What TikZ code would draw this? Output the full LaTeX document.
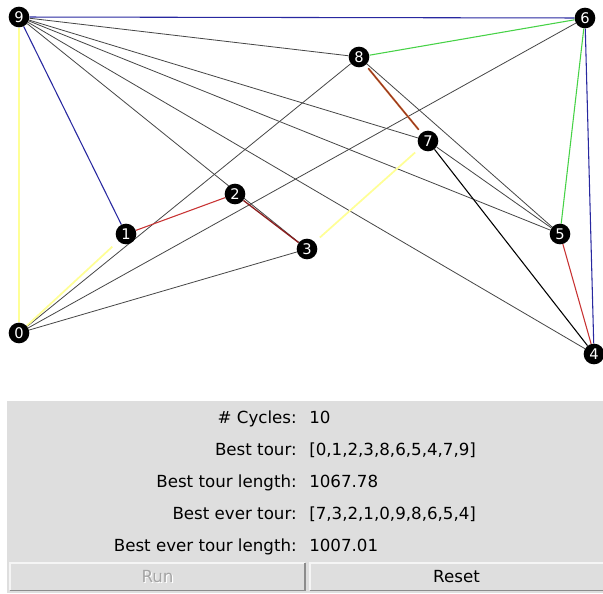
\documentclass[tikz,border=0pt]{standalone}
\usepackage{fontspec}
\setmainfont{DejaVu Sans}
\usetikzlibrary{backgrounds}
\definecolor{tblue}{RGB}{40,40,160}
\definecolor{tyellow}{RGB}{255,255,150}
\definecolor{tgreen}{RGB}{70,210,70}
\definecolor{tred}{RGB}{200,50,50}
\definecolor{tdred}{RGB}{140,30,30}
\definecolor{tbrown}{RGB}{190,105,45}
\definecolor{tgray}{RGB}{70,70,70}
\definecolor{panelgray}{RGB}{222,222,222}
\definecolor{btnlight}{RGB}{245,245,245}
\definecolor{btndark}{RGB}{140,140,140}
\definecolor{disabled}{RGB}{165,165,165}
\begin{document}
\begin{tikzpicture}[x=0.75pt,y=-0.75pt,
  city/.style={circle,fill=black,text=white,inner sep=0pt,minimum size=15.5pt,
    font=\fontsize{11pt}{12pt}\selectfont},
  edgegray/.style={draw=tgray,line width=0.6pt},
  edgecol/.style={line width=0.8pt},
  lbl/.style={anchor=base east,inner sep=0pt,font=\fontsize{12.5pt}{14pt}\selectfont},
  val/.style={anchor=base west,inner sep=0pt,font=\fontsize{12.5pt}{14pt}\selectfont},
  btntext/.style={inner sep=0pt,font=\fontsize{12.5pt}{14pt}\selectfont}]
\useasboundingbox (0,0) rectangle (603,593);

% cities
\node[city] (n9) at (19,17) {9};
\node[city] (n6) at (585,18) {6};
\node[city] (n8) at (359,57) {8};
\node[city] (n7) at (428,141) {7};
\node[city] (n2) at (235,194) {2};
\node[city] (n1) at (126,234) {1};
\node[city] (n3) at (307,249) {3};
\node[city] (n5) at (560,234) {5};
\node[city] (n0) at (19,333) {0};
\node[city] (n4) at (594,354) {4};

\begin{pgfonlayer}{background}
\fill[white] (0,0) rectangle (603,593);
% gray edges
\draw[edgegray] (n9) -- (n8);
\draw[edgegray] (n9) -- (n7);
\draw[edgegray] (n9) -- (n5);
\draw[edgegray] (n9) -- (n4);
\draw[edgegray] (n9) -- (n3);
\draw[edgegray] (n0) -- (n8);
\draw[edgegray] (n0) -- (n6);
\draw[edgegray] (n0) -- (n3);
\draw[edgegray] (n8) -- (n5);
\draw[edgegray] (n7) -- (n5);
% coloured edges
\draw[edgecol,tblue] (n9) -- (n6);
\draw[edgecol,tblue] (n9) -- (n1);
\draw[edgecol,tblue] (n6) -- (n4);
\draw[line width=1.6pt,tyellow] (n9) -- (n0);
\draw[line width=1.3pt,tyellow,shorten >=6pt] (n0) -- (n1);
\draw[line width=1.3pt,tyellow,shorten >=5pt,shorten <=5pt] (n3) -- (n7);
\draw[edgecol,tgreen] (n8) -- (n6);
\draw[edgecol,tgreen] (n6) -- (n5);
\draw[line width=1.4pt,tbrown,shorten >=3pt,shorten <=3pt] (n8) -- (n7);
\draw[line width=0.4pt,tdred,shorten >=3pt,shorten <=3pt] (n8) -- (n7);
\draw[edgecol,tred] (n1) -- (n2);
\draw[line width=1pt,tdred] (n2) -- (n3);
\draw[edgecol,tred] (n5) -- (n4);
\draw[line width=0.8pt,black] (n7) -- (n4);
\end{pgfonlayer}

% control panel
\fill[panelgray] (7,401) rectangle (603,593);
\node[lbl] (l1) at (297,423) {\# Cycles:};
\node[val] (v1) at (309,423) {10};
\node[lbl] (l2) at (297,455) {Best tour:};
\node[val] (v2) at (309,455) {[0,1,2,3,8,6,5,4,7,9]};
\node[lbl] (l3) at (297,487) {Best tour length:};
\node[val] (v3) at (309,487) {1067.78};
\node[lbl] (l4) at (297,519) {Best ever tour:};
\node[val] (v4) at (309,519) {[7,3,2,1,0,9,8,6,5,4]};
\node[lbl] (l5) at (297,551) {Best ever tour length:};
\node[val] (v5) at (309,551) {1007.01};

% buttons
\draw[btnlight,line width=0.9pt] (10,590) -- (10,563) -- (305,563);
\draw[btndark,line width=0.9pt] (10,590.5) -- (305,590.5) -- (305,563);
\draw[btnlight,line width=0.9pt] (310,590) -- (310,563) -- (603,563);
\draw[btndark,line width=0.9pt] (310,590.5) -- (603,590.5);
\node[btntext,text=white] (runs) at (158.6,577.6) {Run};
\node[btntext,text=disabled] (run) at (157.5,576.5) {Run};
\node[btntext] (reset) at (456.5,576.5) {Reset};
\end{tikzpicture}
\end{document}
